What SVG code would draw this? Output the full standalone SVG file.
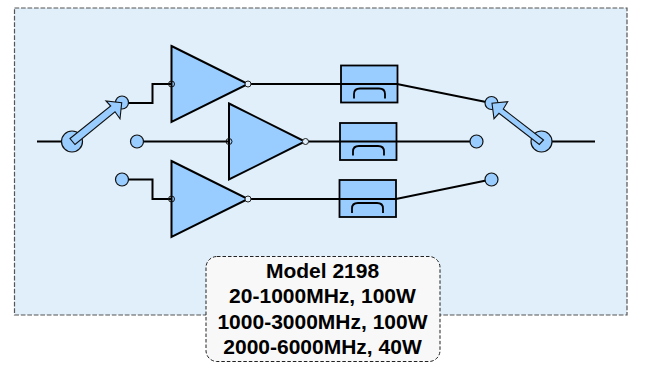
<svg xmlns="http://www.w3.org/2000/svg" width="665" height="391" viewBox="0 0 665 391">
<style>
.w{fill:none;stroke:#000;stroke-width:2}
.t{fill:#99ccff;stroke:#000;stroke-width:2;stroke-linejoin:miter}
.f{fill:#99ccff;stroke:#000;stroke-width:1.8}
.c{fill:#99ccff;stroke:#111;stroke-width:1.2}
.a{fill:#99ccff;stroke:#111;stroke-width:1.1}
.p{fill:none;stroke:#111;stroke-width:1}
.q{fill:#e0eff9;stroke:#222;stroke-width:1}
.h{fill:none;stroke:#000;stroke-width:1.8}
text{font-family:"Liberation Sans",Arial,sans-serif;font-weight:bold;font-size:21px;text-anchor:middle;fill:#000}
</style>
<g id="background"><rect x="14.500" y="8" width="612.500" height="307" fill="#e0eff9" stroke="#555" stroke-width="1.200" stroke-dasharray="4.700 1.800"/></g>
<g id="amp1"><path class="t" d="M171.500 46L248 84L171.500 122Z"/></g>
<g id="amp2"><path class="t" d="M229 103.500L305 141.500L229 179.500Z"/></g>
<g id="amp3"><path class="t" d="M171.500 161L248 199L171.500 237Z"/></g>
<g id="filter1"><rect class="f" x="341" y="65.500" width="56.500" height="37"/><path class="h" d="M354 98.500V94Q354 88.500 360 88.500H379Q385 88.500 385 94V98.500"/></g>
<g id="filter2"><rect class="f" x="340" y="123" width="56.500" height="37"/><path class="h" d="M353 155.500V151.500Q353 146 359 146H378Q384 146 384 151.500V155.500"/></g>
<g id="filter3"><rect class="f" x="339.500" y="180" width="56.500" height="37"/><path class="h" d="M352 213V208.500Q352 203 358 203H377Q383 203 383 208.500V213"/></g>
<g id="connectors">
<path class="w" d="M37 141.500H62"/>
<path class="w" d="M128 103H152.500V84H171.500"/>
<path class="w" d="M143 141.500H229"/>
<path class="w" d="M128 179.500H152.500V199H171.500"/>
<path class="w" d="M248 84H397L491 103"/>
<path class="w" d="M305 141.500H477"/>
<path class="w" d="M248 199H396L491 179.500"/>
<path class="w" d="M552 141.500H595"/>
</g>
<g id="port-in"><circle class="c" cx="72" cy="141.500" r="10.500"/></g>
<g id="port-l1"><circle class="c" cx="122" cy="102.500" r="6.500"/></g>
<g id="port-l2"><circle class="c" cx="137" cy="141.500" r="6.500"/></g>
<g id="port-l3"><circle class="c" cx="122" cy="179.500" r="6.500"/></g>
<g id="port-out"><circle class="c" cx="541.500" cy="141.500" r="10.500"/></g>
<g id="port-r1"><circle class="c" cx="491.500" cy="103" r="6.500"/></g>
<g id="port-r2"><circle class="c" cx="476.500" cy="141.500" r="6.500"/></g>
<g id="port-r3"><circle class="c" cx="491.500" cy="179.500" r="6.500"/></g>
<g id="switch-left"><path class="a" d="M70 138.500L110.700 106L106 101L121.700 102.700L120 118.700L115 111.700L75 144.500Z"/></g>
<g id="switch-right"><path class="a" d="M543.500 140L503.300 109L507.700 101.700L492 103.300L494 118.700L499 113.300L539.300 144.500Z"/></g>
<g id="pins">
<circle class="p" cx="171.500" cy="84" r="3"/><circle class="q" cx="248" cy="84" r="3"/>
<circle class="p" cx="229" cy="141.500" r="3"/><circle class="q" cx="305.500" cy="141.500" r="3"/>
<circle class="p" cx="171.500" cy="199" r="3"/><circle class="q" cx="248" cy="199" r="3"/>
</g>
<g id="label">
<rect x="206" y="256.500" width="234" height="105" rx="11" fill="#f8f8f8" stroke="#222" stroke-width="1" stroke-dasharray="3.500 2"/>
<text x="322.500" y="277.500">Model 2198</text>
<text x="322.500" y="303">20-1000MHz, 100W</text>
<text x="322.500" y="328.500">1000-3000MHz, 100W</text>
<text x="322.500" y="354">2000-6000MHz, 40W</text>
</g>
</svg>
